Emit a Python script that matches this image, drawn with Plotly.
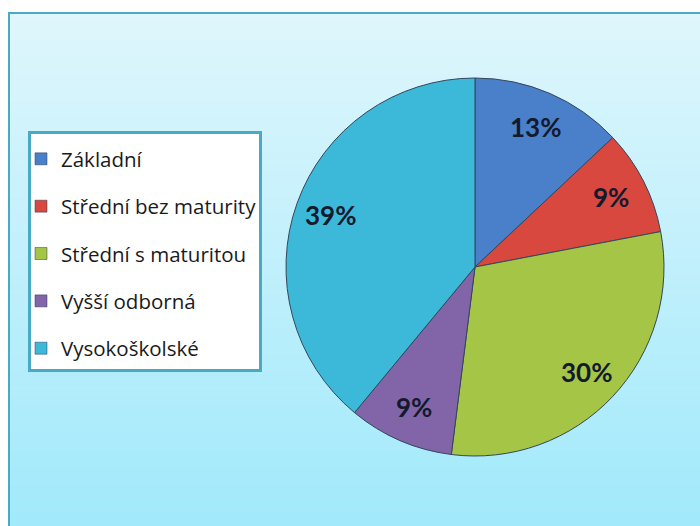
import math
import plotly.graph_objects as go

categories = ["Základní", "Střední bez maturity", "Střední s maturitou", "Vyšší odborná", "Vysokoškolské"]
values = [13, 9, 30, 9, 39]
colors = ["#4a7fca", "#d9483f", "#a4c545", "#8165a8", "#3cb9d9"]

W, H = 700, 526

# pie placement (pixels)
PX0, PX1, PY0, PY1 = 286, 664, 78, 456
dom_x = [PX0 / W, PX1 / W]
dom_y = [1 - PY1 / H, 1 - PY0 / H]

fig = go.Figure()

fig.add_trace(go.Pie(
    labels=categories,
    values=values,
    sort=False,
    direction="clockwise",
    rotation=0,
    marker=dict(colors=colors, line=dict(color="#34465a", width=1)),
    textinfo="none",
    domain=dict(x=dom_x, y=dom_y),
    showlegend=False,
    hoverinfo="label+percent",
))

# percentage labels placed along each slice bisector at ~0.8 R
cx = (PX0 + PX1) / 2
cy = (PY0 + PY1) / 2
R = (PX1 - PX0) / 2
total = sum(values)
annotations = []
cum = 0
for v in values:
    mid = (cum + v / 2) / total * 2 * math.pi
    cum += v
    px = cx + 0.81 * R * math.sin(mid)
    py = cy - 0.81 * R * math.cos(mid)
    annotations.append(dict(
        x=px / W, y=1 - py / H, xref="paper", yref="paper",
        text="%d%%" % round(100 * v / total), showarrow=False,
        font=dict(family="Lato", size=26, color="#141a2e", weight="bold"),
        xanchor="center", yanchor="middle",
    ))

# legend entries (one per category)
for name, col in zip(categories, colors):
    fig.add_trace(go.Scatter(
        x=[None], y=[None], mode="markers", name=name,
        legendgroup=name,
        marker=dict(symbol="square", size=12, color=col,
                    line=dict(color="#2a3a5a", width=0.5)),
    ))

# background gradient bands inside the frame
shapes = []
n = 60
top = (222, 246, 252)
bot = (160, 233, 251)
fx0, fy0 = 9 / W, 1 - 13 / H
for i in range(n):
    t = i / (n - 1)
    c = tuple(int(round(top[k] + (bot[k] - top[k]) * t)) for k in range(3))
    y1 = fy0 - (fy0 + 0.02) * i / n
    y0 = fy0 - (fy0 + 0.02) * (i + 1) / n
    shapes.append(dict(type="rect", xref="paper", yref="paper",
                       x0=fx0, x1=1.02, y0=y0 - 0.001, y1=y1,
                       fillcolor="rgb(%d,%d,%d)" % c, line=dict(width=0),
                       layer="below"))
shapes.append(dict(type="rect", xref="paper", yref="paper",
                   x0=fx0, x1=1.02, y0=-0.02, y1=fy0,
                   fillcolor="rgba(0,0,0,0)", line=dict(color="#4aaac6", width=2),
                   layer="below"))
# legend box
shapes.append(dict(type="rect", xref="paper", yref="paper",
                   x0=29.5 / W, x1=260.5 / W, y0=1 - 370.5 / H, y1=1 - 132.5 / H,
                   fillcolor="white", line=dict(color="#4aaac6", width=3),
                   layer="below"))

fig.update_layout(
    width=W, height=H,
    margin=dict(l=0, r=0, t=0, b=0),
    paper_bgcolor="white",
    plot_bgcolor="rgba(0,0,0,0)",
    xaxis=dict(visible=False),
    yaxis=dict(visible=False),
    shapes=shapes,
    annotations=annotations,
    legend=dict(
        x=21 / W, y=1 - 139 / H, xanchor="left", yanchor="top",
        bgcolor="rgba(0,0,0,0)", borderwidth=0,
        font=dict(family="Open Sans", size=20.5, color="#1a1a1a"),
        tracegroupgap=17.7,
        itemwidth=30,
    ),
)

fig.write_html("out.html", config={"displayModeBar": False},
               post_script="document.body.style.margin='0';document.body.style.padding='0';")
